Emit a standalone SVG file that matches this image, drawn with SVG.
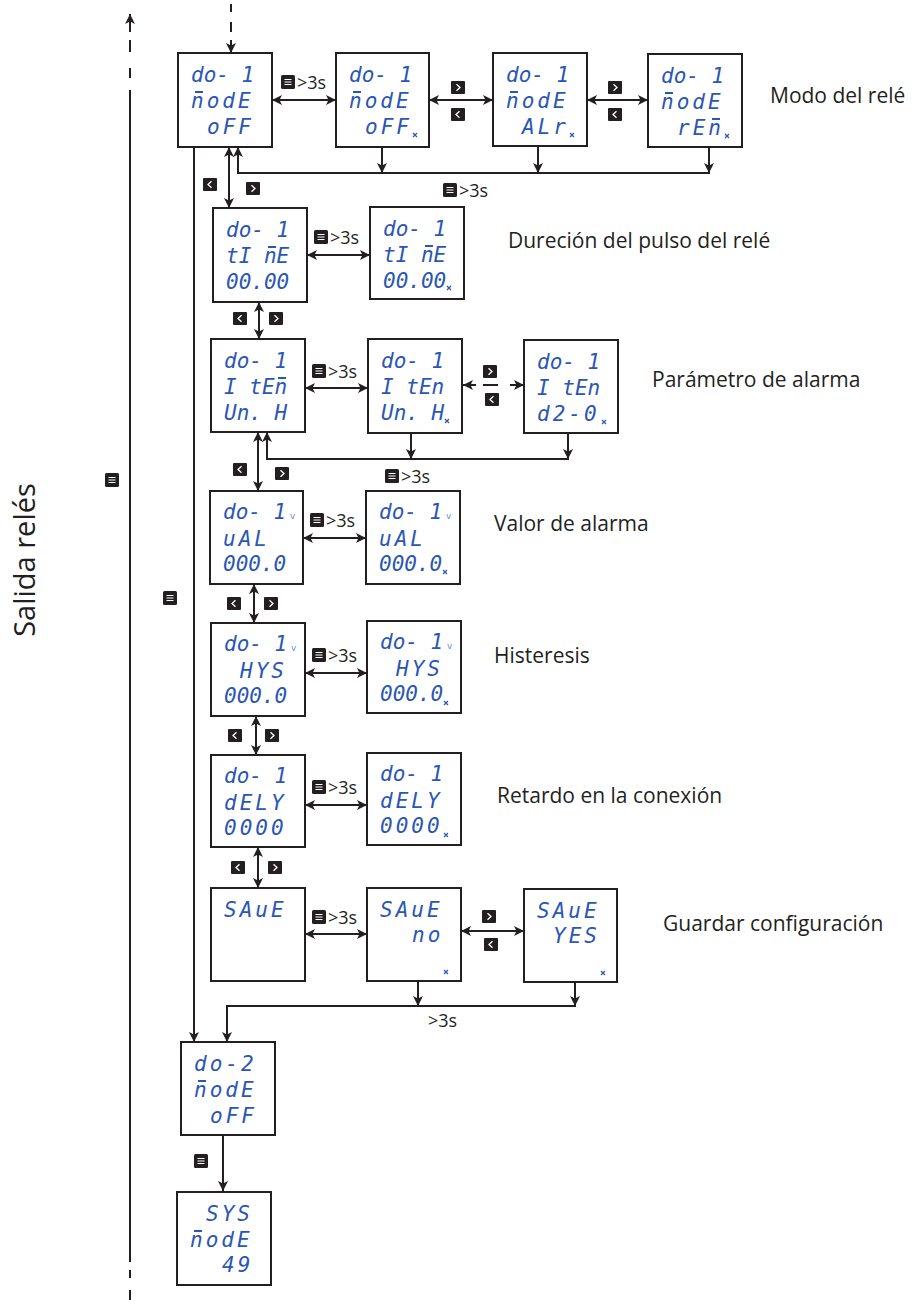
<svg xmlns="http://www.w3.org/2000/svg" xmlns:xlink="http://www.w3.org/1999/xlink" width="914" height="1312" viewBox="0 0 914 1312">
<style>
.box{fill:#fff;stroke:#231f20;stroke-width:2}
.ln{fill:none;stroke:#231f20;stroke-width:2}
.lcd{font-family:"DejaVu Sans Mono",monospace;font-style:oblique;font-size:21px;fill:#2a56b5}
.l4{letter-spacing:3px}
.bar{stroke:#2a56b5;stroke-width:2;fill:none}
.lbl{font-family:"Open Sans","Liberation Sans",sans-serif;font-size:21px;fill:#231f20}
.t3{font-family:"Open Sans","Liberation Sans",sans-serif;font-size:18px;fill:#231f20}
.unit{font-family:"DejaVu Sans",sans-serif;font-size:9px;fill:#6f8fd0}
</style>
<defs>
<marker id="ah" markerUnits="userSpaceOnUse" markerWidth="11" markerHeight="10" refX="10" refY="5" orient="auto-start-reverse">
<path d="M0,0 L10,5 L0,10 L2.5,5 Z" fill="#231f20"/>
</marker>
<g id="menu"><rect x="0" y="0" width="14" height="14" rx="1.5" fill="#231f20"/><path d="M3.5,4.5H10.5M3.5,7H10.5M3.5,9.5H10.5" stroke="#fff" stroke-width="1.2"/></g>
<g id="rt"><rect x="0" y="0" width="14" height="13" rx="1" fill="#231f20"/><path d="M5.5,3.2 L9,6.5 L5.5,9.8" fill="none" stroke="#fff" stroke-width="1.3"/></g>
<g id="lt"><rect x="0" y="0" width="14" height="13" rx="1" fill="#231f20"/><path d="M8.5,3.2 L5,6.5 L8.5,9.8" fill="none" stroke="#fff" stroke-width="1.3"/></g>
<path id="cur" d="M-2,-2 L2,2 M2,-2 L-2,2" stroke="#2a56b5" stroke-width="1.2"/>
<path id="nb" class="bar" d="M4,0 H12"/>
</defs>
<rect width="914" height="1312" fill="#fff"/>

<g id="connectors">
<path class="ln" d="M130,32 V14" marker-end="url(#ah)"/>
<path class="ln" d="M130,40 V52 M130,68 V78 M130,90 V1262 M130,1270 V1278 M130,1290 V1300"/>
<path class="ln" d="M231,4 V12 M231,22 V32"/>
<path class="ln" d="M231,40 V53" marker-end="url(#ah)"/>
<path class="ln" d="M272,100 H336" marker-start="url(#ah)" marker-end="url(#ah)"/>
<path class="ln" d="M429,100 H493" marker-start="url(#ah)" marker-end="url(#ah)"/>
<path class="ln" d="M587,100 H648" marker-start="url(#ah)" marker-end="url(#ah)"/>
<path class="ln" d="M382,147 V173" marker-end="url(#ah)"/>
<path class="ln" d="M538,146 V173" marker-end="url(#ah)"/>
<path class="ln" d="M709,147 V173" marker-end="url(#ah)"/>
<path class="ln" d="M710,173 H238 V147" marker-end="url(#ah)"/>
<path class="ln" d="M229,147 V208" marker-start="url(#ah)" marker-end="url(#ah)"/>
<path class="ln" d="M194,147 V1042" marker-end="url(#ah)"/>
<path class="ln" d="M307,255 H370" marker-start="url(#ah)" marker-end="url(#ah)"/>
<path class="ln" d="M259,302 V339" marker-start="url(#ah)" marker-end="url(#ah)"/>
<path class="ln" d="M305,388 H368" marker-start="url(#ah)" marker-end="url(#ah)"/>
<path class="ln" d="M476,385 H463" marker-end="url(#ah)"/>
<path class="ln" d="M483,385 H498"/>
<path class="ln" d="M510,385 H524" marker-end="url(#ah)"/>
<path class="ln" d="M411,433 V459" marker-end="url(#ah)"/>
<path class="ln" d="M568,433 V459" marker-end="url(#ah)"/>
<path class="ln" d="M569,459 H267 V432" marker-end="url(#ah)"/>
<path class="ln" d="M258,432 V491" marker-start="url(#ah)" marker-end="url(#ah)"/>
<path class="ln" d="M303,538 H366" marker-start="url(#ah)" marker-end="url(#ah)"/>
<path class="ln" d="M254,584 V623" marker-start="url(#ah)" marker-end="url(#ah)"/>
<path class="ln" d="M305,673 H367" marker-start="url(#ah)" marker-end="url(#ah)"/>
<path class="ln" d="M256,716 V755" marker-start="url(#ah)" marker-end="url(#ah)"/>
<path class="ln" d="M305,805 H367" marker-start="url(#ah)" marker-end="url(#ah)"/>
<path class="ln" d="M258,847 V888" marker-start="url(#ah)" marker-end="url(#ah)"/>
<path class="ln" d="M305,934 H367" marker-start="url(#ah)" marker-end="url(#ah)"/>
<path class="ln" d="M461,931 H524" marker-start="url(#ah)" marker-end="url(#ah)"/>
<path class="ln" d="M418,981 V1006" marker-end="url(#ah)"/>
<path class="ln" d="M575,982 V1006" marker-end="url(#ah)"/>
<path class="ln" d="M576,1006 H227 V1042" marker-end="url(#ah)"/>
<path class="ln" d="M223,1135 V1191" marker-end="url(#ah)"/>
</g>

<g id="connector-labels">
<use xlink:href="#menu" x="281" y="75"/><text class="t3" x="297" y="89">&gt;3s</text>
<use xlink:href="#rt" x="451" y="81"/><use xlink:href="#lt" x="451" y="108"/>
<use xlink:href="#rt" x="608" y="81"/><use xlink:href="#lt" x="608" y="108"/>
<use xlink:href="#menu" x="443" y="183"/><text class="t3" x="459" y="197">&gt;3s</text>
<use xlink:href="#lt" x="203" y="178"/><use xlink:href="#rt" x="246" y="182"/>
<use xlink:href="#menu" x="314" y="230"/><text class="t3" x="330" y="244">&gt;3s</text>
<use xlink:href="#lt" x="233" y="312"/><use xlink:href="#rt" x="269" y="312"/>
<use xlink:href="#menu" x="312" y="364"/><text class="t3" x="328" y="378">&gt;3s</text>
<use xlink:href="#rt" x="483" y="365"/><use xlink:href="#lt" x="485" y="393"/>
<use xlink:href="#menu" x="385" y="469"/><text class="t3" x="401" y="483">&gt;3s</text>
<use xlink:href="#lt" x="233" y="463"/><use xlink:href="#rt" x="275" y="467"/>
<use xlink:href="#menu" x="310" y="513"/><text class="t3" x="326" y="527">&gt;3s</text>
<use xlink:href="#lt" x="227" y="597"/><use xlink:href="#rt" x="264" y="597"/>
<use xlink:href="#menu" x="312" y="648"/><text class="t3" x="328" y="662">&gt;3s</text>
<use xlink:href="#lt" x="228" y="729"/><use xlink:href="#rt" x="265" y="729"/>
<use xlink:href="#menu" x="312" y="780"/><text class="t3" x="328" y="794">&gt;3s</text>
<use xlink:href="#lt" x="231" y="861"/><use xlink:href="#rt" x="268" y="861"/>
<use xlink:href="#menu" x="312" y="910"/><text class="t3" x="328" y="924">&gt;3s</text>
<use xlink:href="#rt" x="482" y="910"/><use xlink:href="#lt" x="484" y="938"/>
<text class="t3" x="428" y="1027">&gt;3s</text>
<use xlink:href="#menu" x="105" y="473"/>
<use xlink:href="#menu" x="163" y="591"/>
<use xlink:href="#menu" x="194" y="1154"/>
</g>

<g id="side-labels">
<text class="lbl" transform="translate(35,560) rotate(-90)" text-anchor="middle" style="font-size:29px">Salida relés</text>
<text class="lbl" x="770" y="103">Modo del relé</text>
<text class="lbl" x="508" y="248">Dureción del pulso del relé</text>
<text class="lbl" x="652" y="387">Parámetro de alarma</text>
<text class="lbl" x="494" y="531">Valor de alarma</text>
<text class="lbl" x="494" y="663">Histeresis</text>
<text class="lbl" x="497" y="803">Retardo en la conexión</text>
<text class="lbl" x="663" y="931">Guardar configuración</text>
</g>

<g id="node-a1"><rect class="box" x="178" y="53" width="94" height="94"/>
<text class="lcd" x="191" y="82">do- 1</text><text class="lcd l4" x="191" y="108">nodE</text><use xlink:href="#nb" x="191" y="92"/><text class="lcd l4" x="207" y="134">oFF</text></g>
<g id="node-a2"><rect class="box" x="336" y="53" width="93" height="94"/>
<text class="lcd" x="349" y="82">do- 1</text><text class="lcd l4" x="349" y="108">nodE</text><use xlink:href="#nb" x="349" y="92"/><text class="lcd l4" x="365" y="134">oFF</text><use xlink:href="#cur" x="415" y="135"/></g>
<g id="node-a3"><rect class="box" x="493" y="53" width="94" height="93"/>
<text class="lcd" x="506" y="82">do- 1</text><text class="lcd l4" x="506" y="108">nodE</text><use xlink:href="#nb" x="506" y="92"/><text class="lcd l4" x="522" y="134">ALr</text><use xlink:href="#cur" x="572" y="135"/></g>
<g id="node-a4"><rect class="box" x="648" y="54" width="94" height="93"/>
<text class="lcd" x="661" y="83">do- 1</text><text class="lcd l4" x="661" y="109">nodE</text><use xlink:href="#nb" x="661" y="93"/><text class="lcd l4" x="677" y="135">rEn</text><use xlink:href="#nb" x="708" y="119"/><use xlink:href="#cur" x="727" y="136"/></g>

<g id="node-b1"><rect class="box" x="213" y="208" width="94" height="94"/>
<text class="lcd" x="226" y="237">do- 1</text><text class="lcd" x="226" y="263">tI nE</text><use xlink:href="#nb" x="264" y="247"/><text class="lcd" x="226" y="289">00.00</text></g>
<g id="node-b2"><rect class="box" x="370" y="207" width="94" height="92"/>
<text class="lcd" x="383" y="236">do- 1</text><text class="lcd" x="383" y="262">tI nE</text><use xlink:href="#nb" x="421" y="246"/><text class="lcd" x="383" y="288">00.00</text><use xlink:href="#cur" x="449" y="288"/></g>

<g id="node-c1"><rect class="box" x="211" y="339" width="94" height="93"/>
<text class="lcd" x="224" y="368">do- 1</text><text class="lcd" x="224" y="394">I tEn</text><use xlink:href="#nb" x="274" y="378"/><text class="lcd" x="224" y="420">Un. H</text></g>
<g id="node-c2"><rect class="box" x="368" y="339" width="94" height="94"/>
<text class="lcd" x="381" y="368">do- 1</text><text class="lcd" x="381" y="394">I tEn</text><text class="lcd" x="381" y="420">Un. H</text><use xlink:href="#cur" x="447" y="421"/></g>
<g id="node-c3"><rect class="box" x="524" y="340" width="94" height="93"/>
<text class="lcd" x="537" y="369">do- 1</text><text class="lcd" x="537" y="395">I tEn</text><text class="lcd l4" x="537" y="421">d2-0</text><use xlink:href="#cur" x="604" y="422"/></g>

<g id="node-d1"><rect class="box" x="210" y="491" width="93" height="93"/>
<text class="lcd" x="223" y="519">do- 1</text><text class="unit" x="290" y="519">v</text><text class="lcd l4" x="223" y="546">uAL</text><text class="lcd" x="223" y="571">000.0</text></g>
<g id="node-d2"><rect class="box" x="366" y="491" width="94" height="93"/>
<text class="lcd" x="379" y="519">do- 1</text><text class="unit" x="446" y="519">v</text><text class="lcd l4" x="379" y="546">uAL</text><text class="lcd" x="379" y="571">000.0</text><use xlink:href="#cur" x="445" y="572"/></g>

<g id="node-e1"><rect class="box" x="211" y="623" width="94" height="93"/>
<text class="lcd" x="224" y="651">do- 1</text><text class="unit" x="291" y="651">v</text><text class="lcd l4" x="240" y="678">HYS</text><text class="lcd" x="224" y="703">000.0</text></g>
<g id="node-e2"><rect class="box" x="367" y="621" width="94" height="92"/>
<text class="lcd" x="380" y="649">do- 1</text><text class="unit" x="447" y="649">v</text><text class="lcd l4" x="396" y="676">HYS</text><text class="lcd" x="380" y="701">000.0</text><use xlink:href="#cur" x="446" y="703"/></g>

<g id="node-f1"><rect class="box" x="211" y="755" width="94" height="92"/>
<text class="lcd" x="224" y="783">do- 1</text><text class="lcd l4" x="224" y="810">dELY</text><text class="lcd l4" x="224" y="835">0000</text></g>
<g id="node-f2"><rect class="box" x="367" y="753" width="94" height="92"/>
<text class="lcd" x="380" y="781">do- 1</text><text class="lcd l4" x="380" y="808">dELY</text><text class="lcd l4" x="380" y="833">0000</text><use xlink:href="#cur" x="446" y="835"/></g>

<g id="node-g1"><rect class="box" x="211" y="888" width="94" height="93"/>
<text class="lcd l4" x="224" y="917">SAuE</text></g>
<g id="node-g2"><rect class="box" x="367" y="888" width="94" height="93"/>
<text class="lcd l4" x="380" y="917">SAuE</text><text class="lcd l4" x="412" y="942">no</text><use xlink:href="#cur" x="446" y="972"/></g>
<g id="node-g3"><rect class="box" x="524" y="889" width="93" height="93"/>
<text class="lcd l4" x="537" y="918">SAuE</text><text class="lcd l4" x="553" y="943">YES</text><use xlink:href="#cur" x="603" y="973"/></g>

<g id="node-do2"><rect class="box" x="181" y="1042" width="94" height="93"/>
<text class="lcd l4" x="194" y="1071">do-2</text><text class="lcd l4" x="194" y="1097">nodE</text><use xlink:href="#nb" x="194" y="1081"/><text class="lcd l4" x="210" y="1123">oFF</text></g>
<g id="node-sys"><rect class="box" x="177" y="1192" width="94" height="93"/>
<text class="lcd l4" x="206" y="1221">SYS</text><text class="lcd l4" x="190" y="1247">nodE</text><use xlink:href="#nb" x="190" y="1231"/><text class="lcd l4" x="222" y="1272">49</text></g>
</svg>
